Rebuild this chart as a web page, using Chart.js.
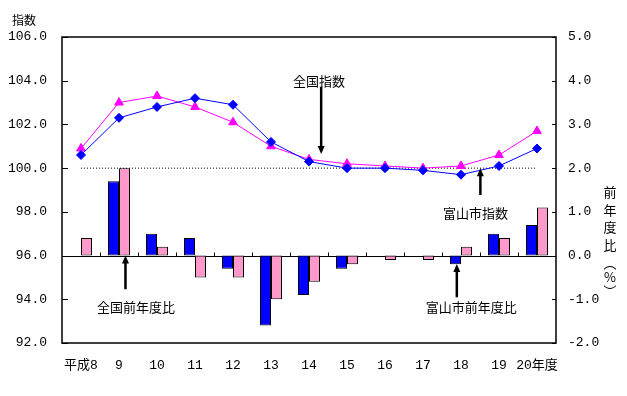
<!DOCTYPE html>
<html lang="ja">
<head>
  <meta charset="UTF-8">
  <title>指数・前年度比</title>
  <style>
  html, body { margin: 0; padding: 0; background: #fff; }
  #wrap { width: 627px; height: 396px; position: relative; }
  </style>
  <script src="https://cdn.jsdelivr.net/npm/chart.js"></script>
</head>
<body>
  <div id="wrap"><canvas id="indexChart"></canvas></div>

  <script>
    // categories (fiscal years)
    var years = ['平成8', '9', '10', '11', '12', '13', '14', '15', '16', '17', '18', '19', '20年度'];

    // index values (left axis)
    var toyamaIndex = [100.6, 102.3, 102.8, 103.2, 102.9, 101.2, 100.3, 100.0, 100.0, 99.9, 99.7, 100.1, 100.9];
    var nationalIndex = [100.9, 103.0, 103.3, 102.8, 102.1, 101.0, 100.4, 100.2, 100.1, 100.0, 100.1, 100.6, 101.7];
    var baseLine = [100, 100, 100, 100, 100, 100, 100, 100, 100, 100, 100, 100, 100];

    // year-on-year change in % (right axis)
    var toyamaChange = [null, 1.7, 0.5, 0.4, -0.3, -1.6, -0.9, -0.3, 0.0, 0.0, -0.2, 0.5, 0.7];
    var nationalChange = [0.4, 2.0, 0.2, -0.5, -0.5, -1.0, -0.6, -0.2, -0.1, -0.1, 0.2, 0.4, 1.1];

    // axis ticks
    var leftTicks = [92, 94, 96, 98, 100, 102, 104, 106];
    var rightTicks = [-2, -1, 0, 1, 2, 3, 4, 5];

    // annotation labels, placed in data units (category index, left axis value)
    var noteTexts = ['全国指数', '富山市指数', '全国前年度比', '富山市前年度比'];
    var noteTextX = [6.26, 10.38, 1.45, 10.27];
    var noteTextY = [104.0, 97.96, 93.65, 93.65];
    var arrowX = [6.32, 10.51, 1.17, 9.89];
    var arrowFrom = [103.73, 98.77, 94.46, 94.09];
    var arrowTo = [100.65, 100.0, 96.0, 95.61];

    var leftTitle = '指数';
    var rightTitle = ['前', '年', '度', '比', '︵', '%', '︶'];

    var numFont = { family: '"Liberation Mono", "Noto Sans CJK JP", monospace', size: 13 };
    var jpFont = '13px "Noto Sans CJK JP", sans-serif';

    // extra drawing: frame, inward ticks, zero line, arrows, titles
    var extras = {
      id: 'extras',
      beforeDatasetsDraw: function(chart) {
        var ctx = chart.ctx;
        var a = chart.chartArea;
        var x = chart.scales.x;
        var y1 = chart.scales.y1;
        var zero = Math.round(y1.getPixelForValue(0)) + 0.5;
        ctx.save();
        ctx.strokeStyle = '#000';
        ctx.lineWidth = 1;
        ctx.beginPath();
        ctx.moveTo(a.left, zero);
        ctx.lineTo(a.right, zero);
        var step = (a.right - a.left) / years.length;
        for (var i = 1; i < years.length; i++) {
          var bx = Math.round(a.left + step * i) + 0.5;
          ctx.moveTo(bx, zero);
          ctx.lineTo(bx, zero - 4);
        }
        ctx.stroke();
        ctx.restore();
      },
      afterDraw: function(chart) {
        var ctx = chart.ctx;
        var a = chart.chartArea;
        var x = chart.scales.x;
        var y = chart.scales.y;
        var y1 = chart.scales.y1;
        ctx.save();
        ctx.strokeStyle = '#000';
        ctx.lineWidth = 1.5;
        ctx.strokeRect(a.left, a.top, a.right - a.left, a.bottom - a.top);

        ctx.lineWidth = 1;
        ctx.beginPath();
        leftTicks.forEach(function(v) {
          var py = Math.round(y.getPixelForValue(v)) + 0.5;
          ctx.moveTo(a.left, py);
          ctx.lineTo(a.left + 6, py);
        });
        rightTicks.forEach(function(v) {
          var py = Math.round(y1.getPixelForValue(v)) + 0.5;
          ctx.moveTo(a.right, py);
          ctx.lineTo(a.right - 4, py);
        });
        ctx.stroke();

        // arrows
        ctx.fillStyle = '#000';
        for (var i = 0; i < noteTexts.length; i++) {
          var ax = x.getPixelForValue(arrowX[i]);
          var p0 = y.getPixelForValue(arrowFrom[i]);
          var p1 = y.getPixelForValue(arrowTo[i]);
          var dir = p1 > p0 ? 1 : -1;
          ctx.lineWidth = 2.5;
          ctx.beginPath();
          ctx.moveTo(ax, p0);
          ctx.lineTo(ax, p1 - dir * 6);
          ctx.stroke();
          ctx.beginPath();
          ctx.moveTo(ax, p1);
          ctx.lineTo(ax - 3.5, p1 - dir * 8);
          ctx.lineTo(ax + 3.5, p1 - dir * 8);
          ctx.closePath();
          ctx.fill();

          ctx.font = jpFont;
          ctx.textAlign = 'center';
          ctx.textBaseline = 'middle';
          ctx.fillText(noteTexts[i], x.getPixelForValue(noteTextX[i]), y.getPixelForValue(noteTextY[i]));
        }

        // axis titles
        ctx.font = '12px "Noto Sans CJK JP", sans-serif';
        ctx.textAlign = 'left';
        ctx.fillText(leftTitle, 12, 20);

        ctx.font = jpFont;
        ctx.textAlign = 'center';
        var ty = 192;
        rightTitle.forEach(function(ch, k) {
          ctx.fillText(ch, 610, ty);
          ty += (k < 4 ? 17.7 : 14);
        });
        ctx.restore();
      }
    };

    Chart.defaults.font.family = '"Noto Sans CJK JP", sans-serif';
    Chart.defaults.color = '#000';

    var chart = new Chart('indexChart', {
      type: 'bar',
      data: {
        labels: years,
        datasets: [{
          type: 'line',
          label: '富山市指数',
          data: toyamaIndex,
          yAxisID: 'y',
          borderColor: '#0000ff',
          backgroundColor: '#0000ff',
          borderWidth: 1,
          pointStyle: 'rectRot',
          pointRadius: 4.5,
          tension: 0,
          order: 0
        }, {
          type: 'line',
          label: '全国指数',
          data: nationalIndex,
          yAxisID: 'y',
          borderColor: '#ff00ff',
          backgroundColor: '#ff00ff',
          borderWidth: 1,
          pointStyle: 'triangle',
          pointRadius: 5,
          tension: 0,
          order: 0
        }, {
          type: 'line',
          label: '基準',
          data: baseLine,
          yAxisID: 'y',
          borderColor: '#000',
          borderWidth: 1,
          borderDash: [1, 2],
          pointRadius: 0,
          order: 1
        }, {
          label: '富山市前年度比',
          data: toyamaChange,
          yAxisID: 'y1',
          backgroundColor: '#0000ff',
          borderColor: '#000',
          borderWidth: 1,
          borderSkipped: false,
          categoryPercentage: 0.58,
          barPercentage: 1.0,
          order: 2
        }, {
          label: '全国前年度比',
          data: nationalChange,
          yAxisID: 'y1',
          backgroundColor: '#ff99cc',
          borderColor: '#000',
          borderWidth: 1,
          borderSkipped: false,
          categoryPercentage: 0.58,
          barPercentage: 1.0,
          order: 2
        }]
      },
      options: {
        responsive: true,
        maintainAspectRatio: false,
        animation: false,
        layout: { padding: { top: 37, left: 0, right: 0, bottom: 0 } },
        plugins: {
          legend: { display: false },
          tooltip: { enabled: false }
        },
        scales: {
          x: {
            offset: true,
            grid: { display: false, drawTicks: false },
            border: { display: false },
            ticks: { font: numFont, padding: 15, maxRotation: 0, autoSkip: false },
            afterFit: function(s) { s.height = 53; }
          },
          y: {
            position: 'left',
            min: 92,
            max: 106,
            grid: { display: false, drawTicks: false },
            border: { display: false },
            ticks: {
              stepSize: 2,
              padding: 15,
              font: numFont,
              callback: function(v) { return v.toFixed(1); }
            },
            afterFit: function(s) { s.width = 62; }
          },
          y1: {
            position: 'right',
            min: -2,
            max: 5,
            grid: { display: false, drawTicks: false },
            border: { display: false },
            ticks: {
              stepSize: 1,
              padding: 12,
              font: numFont,
              callback: function(v) { return v.toFixed(1); }
            },
            afterFit: function(s) { s.width = 71; }
          }
        }
      },
      plugins: [extras]
    });
  </script>
</body>
</html>
